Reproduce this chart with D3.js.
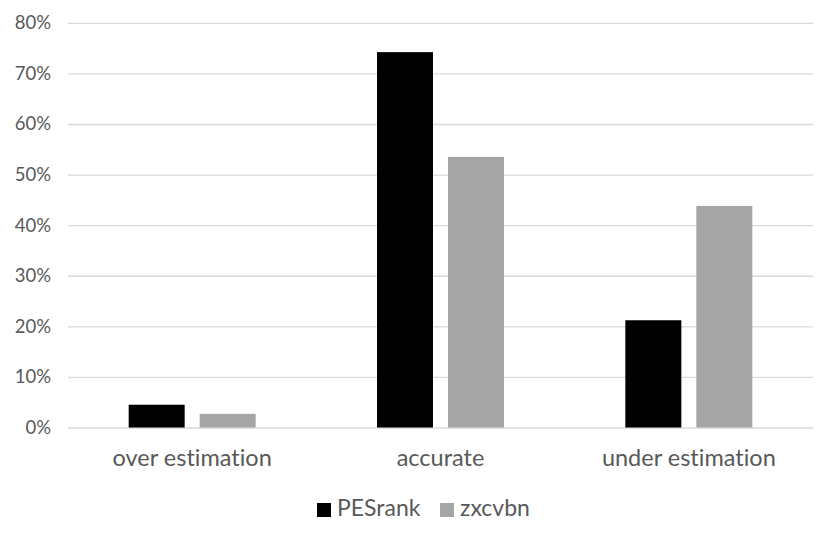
<!DOCTYPE html>
<html><head><meta charset="utf-8">
<script src="https://cdn.jsdelivr.net/npm/d3@7"></script>
<style>body{margin:0;background:#fff;} svg{display:block;font-family:Lato,"Noto Sans",sans-serif;font-variant-ligatures:none;font-feature-settings:"liga" 0,"clig" 0;}</style>
</head><body>
<svg id="c" width="836" height="543"></svg>
<script>
const categories = ["over estimation", "accurate", "under estimation"];
const seriesNames = ["PESrank", "zxcvbn"];
const pesrank = [0.045, 0.742, 0.212];
const zxcvbn = [0.027, 0.535, 0.438];
const yTicks = [0, 0.1, 0.2, 0.3, 0.4, 0.5, 0.6, 0.7, 0.8];
const colors = ["#000000", "#a5a5a5"];

const svg = d3.select("#c");
const mLeft = 68, mRight = 813, mTop = 22.8, mBottom = 427.5;
const y = d3.scaleLinear().domain([0, 0.8]).range([mBottom, mTop]);
const x0 = d3.scaleBand().domain(categories).range([mLeft, mRight]).padding(0);
const bw = x0.bandwidth();
const groupW = 127;
const x1 = d3.scaleBand().domain(seriesNames).range([(bw - groupW) / 2, (bw + groupW) / 2]).paddingInner(15 / 71).paddingOuter(0);

// gridlines
const yAxis = d3.axisLeft(y).tickValues(yTicks).tickFormat(d3.format(".0%")).tickSize(-(mRight - mLeft)).tickPadding(17);
const ga = svg.append("g").attr("transform", `translate(${mLeft},0)`).call(yAxis);
ga.select(".domain").remove();
ga.selectAll(".tick line").attr("stroke", "#d9d9d9").attr("stroke-width", 1.3);
ga.selectAll(".tick text").attr("fill", "#595959").attr("font-size", 18.5).attr("font-family", "Lato");

const data = categories.map((c, i) => ({cat: c, vals: [pesrank[i], zxcvbn[i]]}));
const groups = svg.append("g").selectAll("g").data(data).join("g")
  .attr("transform", d => `translate(${x0(d.cat)},0)`);
groups.selectAll("rect").data(d => d.vals.map((v, j) => ({s: seriesNames[j], v, j})))
  .join("rect")
  .attr("x", d => x1(d.s))
  .attr("width", x1.bandwidth())
  .attr("y", d => y(d.v))
  .attr("height", d => y(0) - y(d.v))
  .attr("fill", d => colors[d.j]);

// x axis labels
const xAxis = d3.axisBottom(x0).tickSize(0).tickPadding(22);
const gx = svg.append("g").attr("transform", `translate(0,${mBottom})`).call(xAxis);
gx.select(".domain").remove();
gx.selectAll(".tick text").attr("fill", "#595959").attr("font-size", 23.5).attr("font-family", "Lato");

// legend
const legendItems = [{name: seriesNames[0], x: 317}, {name: seriesNames[1], x: 440}];
const lg = svg.append("g").selectAll("g").data(legendItems).join("g")
  .attr("transform", d => `translate(${d.x},0)`);
lg.append("rect").attr("x", 0).attr("y", 503).attr("width", 14).attr("height", 14)
  .attr("fill", (d, i) => colors[i]);
lg.append("text").attr("x", 20).attr("y", 516).text(d => d.name)
  .attr("fill", "#595959").attr("font-size", 23).attr("font-family", "Lato");
</script>
</body></html>
